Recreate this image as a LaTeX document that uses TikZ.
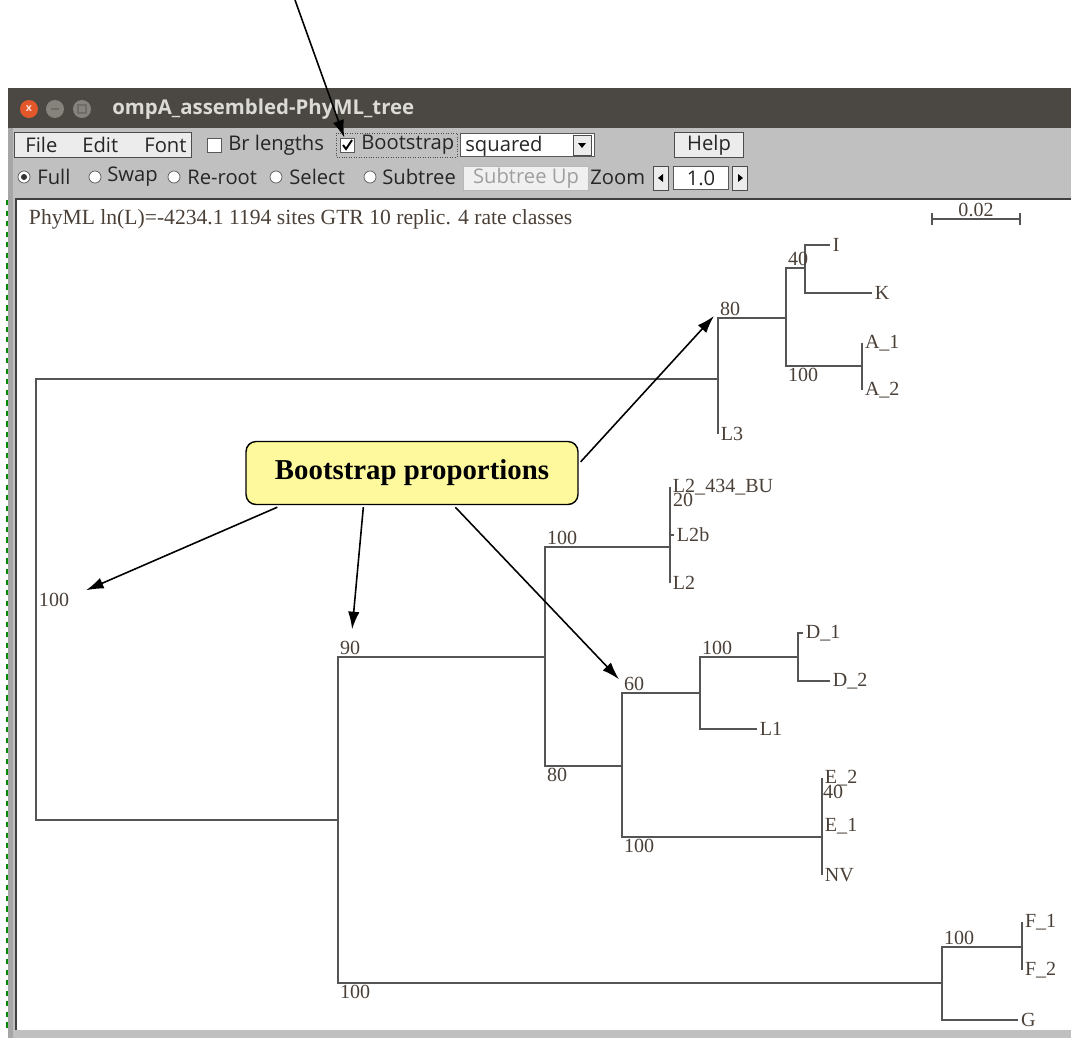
\documentclass[tikz,border=0pt]{standalone}
\usepackage{fontspec}
\setmainfont{Liberation Serif}
\newfontfamily\guifont{Open Sans}
\usetikzlibrary{arrows.meta,positioning,calc}
\definecolor{titlebar}{HTML}{4B4843}
\definecolor{titletext}{HTML}{DCDAD4}
\definecolor{winbtnc}{HTML}{86837C}
\definecolor{panel}{HTML}{C0C0C0}
\definecolor{branchc}{HTML}{555555}
\definecolor{labelc}{HTML}{4A4038}
\definecolor{calloutfill}{HTML}{FDF99C}
\definecolor{closeorange}{HTML}{E2582B}

\begin{document}
\begin{tikzpicture}[
  x=0.02cm, y=-0.02cm,
  branch/.style={draw=branchc, line width=1pt},
  leaf/.style={anchor=west, inner sep=1.5pt, text=labelc, font=\fontsize{11.4}{12}\selectfont},
  bsup/.style={anchor=south west, inner sep=1pt, text=labelc, font=\fontsize{11.4}{12}\selectfont},
  bsdown/.style={anchor=north west, inner sep=1pt, text=labelc, font=\fontsize{11.4}{12}\selectfont},
  guitext/.style={anchor=west, inner sep=0pt, font=\guifont\fontsize{11.5}{13}\selectfont, text=black!85},
  btn/.style={draw=gray!60!black, fill=gray!15, inner sep=0pt},
  chkbox/.style={draw=gray!70!black, fill=white, minimum size=0.28cm, inner sep=0pt},
  radio/.style={circle, draw=gray!70!black, fill=white, minimum size=0.24cm, inner sep=0pt},
  winbtn/.style={circle, minimum size=0.36cm, inner sep=0pt},
  callout/.style={rectangle, draw, thick, rounded corners=0.2cm, fill=calloutfill, minimum width=6.64cm, minimum height=1.26cm, font=\fontsize{16.4}{19}\selectfont\bfseries},
  arr/.style={-{Latex[length=10pt,width=6.5pt]}, line width=0.9pt}
]
  \useasboundingbox (0,0) rectangle (1071,1038);
  \fill[white] (0,0) rectangle (1071,1038);

  % window frame
  \fill[panel] (8,128) rectangle (1071,1038);
  \fill[titlebar] (8,88) rectangle (1071,128);
  \fill[white] (17,200) rectangle (1071,1030);
  \draw[gray!50!black, line width=1.2pt] (16,1030) -- (16,199) -- (1071,199);
  \fill[gray!70] (8,128) rectangle (13,1038);
  \draw[green!55!black, dashed, line width=0.6pt] (7,200) -- (7,1030);

  % title bar
  \node[winbtn, fill=closeorange] (wClose) at (29,109) {};
  \node[winbtn, fill=winbtnc] (wMin) at (55,109) {};
  \node[winbtn, fill=winbtnc] (wMax) at (82,109) {};
  \node[font=\guifont\fontsize{6}{6}\selectfont\bfseries, text=white!80!closeorange] at (wClose) {x};
  \draw[titlebar!80, line width=1pt] ($(wMin)+(-4,0)$) -- ($(wMin)+(4,0)$);
  \draw[titlebar!80, line width=0.8pt] ($(wMax)+(-4,-4)$) rectangle ($(wMax)+(4,4)$);
  \node[guitext, text=titletext, font=\guifont\fontsize{11.6}{13}\selectfont\bfseries] (title) at (112,109) {ompA\_assembled-PhyML\_tree};

  % toolbar, first row
  \node[btn, minimum width=3.54cm, minimum height=0.5cm] (menuBtn) at (103,145) {};
  \node[guitext] (tFile) at (25,145) {File};
  \node[guitext] (tEdit) at (82,145) {Edit};
  \node[guitext] (tFont) at (144,145) {Font};
  \node[chkbox] (chkBr) at (214,145) {};
  \node[guitext] (tBr) at (228,145) {Br lengths};
  \draw[gray!60!black, densely dotted] (336,133) rectangle (457,157);
  \node[chkbox] (chkBoot) at (347,145) {};
  \draw[black, line width=1.1pt] ($(chkBoot)+(-4,0)$) -- ($(chkBoot)+(-1,4)$) -- ($(chkBoot)+(5,-5)$);
  \node[guitext] (tBoot) at (361,145) {Bootstrap};
  \node[draw=gray!70!black, fill=white, minimum width=2.68cm, minimum height=0.46cm, inner sep=0pt] (combo) at (527,145) {};
  \node[guitext] (tSquared) at (465,146) {squared};
  \node[btn, minimum width=0.36cm, minimum height=0.4cm] (comboArrow) at (582,145) {};
  \fill[black] ($(comboArrow)+(-4,-2)$) -- ($(comboArrow)+(4,-2)$) -- ($(comboArrow)+(0,3)$) -- cycle;
  \node[btn, minimum width=1.38cm, minimum height=0.5cm] (helpBtn) at (709,145) {};
  \node[guitext, anchor=center] (tHelp) at (helpBtn) {Help};

  % toolbar, second row
  \node[radio] (rFull) at (24,177) {};
  \fill[black!80] (rFull) circle (3);
  \node[guitext] (tFull) at (37,177) {Full};
  \node[radio] (rSwap) at (95,177) {};
  \node[guitext] (tSwap) at (107,177) {Swap};
  \node[radio] (rReroot) at (174,177) {};
  \node[guitext] (tReroot) at (187,177) {Re-root};
  \node[radio] (rSelect) at (276,177) {};
  \node[guitext] (tSelect) at (289,177) {Select};
  \node[radio] (rSubtree) at (370,177) {};
  \node[guitext] (tSubtree) at (382,177) {Subtree};
  \node[draw=gray!55, fill=gray!12, minimum width=2.5cm, minimum height=0.48cm, inner sep=0pt] (subUp) at (526,178) {};
  \node[guitext, anchor=center, text=gray!75] (tSubUp) at (subUp) {Subtree Up};
  \node[guitext] (tZoom) at (590,177) {Zoom};
  \node[btn, minimum width=0.3cm, minimum height=0.48cm] (zLeft) at (661,178) {};
  \fill[black] ($(zLeft)+(2,-4)$) -- ($(zLeft)+(2,4)$) -- ($(zLeft)+(-3,0)$) -- cycle;
  \node[draw=gray!70!black, fill=white, minimum width=1.1cm, minimum height=0.46cm, inner sep=0pt] (zField) at (701,178) {};
  \node[guitext, anchor=center] (tZoomVal) at (zField) {1.0};
  \node[btn, minimum width=0.3cm, minimum height=0.48cm] (zRight) at (740,178) {};
  \fill[black] ($(zRight)+(-2,-4)$) -- ($(zRight)+(-2,4)$) -- ($(zRight)+(3,0)$) -- cycle;

  % header and scale bar
  \node[leaf, font=\fontsize{12.3}{13}\selectfont] (header) at (26,219) {PhyML ln(L)=-4234.1 1194 sites GTR 10 replic. 4 rate classes};
  \coordinate (scaleL) at (932,219);
  \coordinate (scaleR) at (1020,219);
  \draw[branch] (scaleL) -- (scaleR);
  \draw[branch] ($(scaleL)+(0,-6)$) -- ($(scaleL)+(0,6)$);
  \draw[branch] ($(scaleR)+(0,-6)$) -- ($(scaleR)+(0,6)$);
  \node[anchor=south, inner sep=0.5pt, text=labelc, font=\fontsize{11.4}{12}\selectfont] (scaleLbl) at ($(scaleL)!0.5!(scaleR)+(0,-1)$) {0.02};

  % internal nodes
  \coordinate (root) at (36,600);
  \coordinate (n80) at (718,379);
  \coordinate (nIKA) at (786,318);
  \coordinate (nIK) at (805,268);
  \coordinate (nA) at (862,366);
  \coordinate (n90) at (338,820);
  \coordinate (nL2up) at (545,657);
  \coordinate (nL2) at (670,547);
  \coordinate (n80b) at (622,766);
  \coordinate (nD) at (700,693);
  \coordinate (nDD) at (798,657);
  \coordinate (nE) at (822,837);
  \coordinate (nFG) at (942,983);
  \coordinate (nF) at (1022,947);

  % leaves
  \node[leaf] (lI) at (830,245) {I};
  \node[leaf] (lK) at (872,293) {K};
  \node[leaf] (lA1) at (862,343) {A\_1};
  \node[leaf] (lA2) at (862,390) {A\_2};
  \node[leaf] (lL3) at (718,434) {L3};
  \node[leaf] (lL2bu) at (670,487) {L2\_434\_BU};
  \node[leaf] (lL2b) at (674,535) {L2b};
  \node[leaf] (lL2) at (670,583) {L2};
  \node[leaf] (lD1) at (803,633) {D\_1};
  \node[leaf] (lD2) at (830,681) {D\_2};
  \node[leaf] (lL1) at (757,729) {L1};
  \node[leaf] (lE2) at (822,778) {E\_2};
  \node[leaf] (lE1) at (822,826) {E\_1};
  \node[leaf] (lNV) at (822,875) {NV};
  \node[leaf] (lF1) at (1022,922) {F\_1};
  \node[leaf] (lF2) at (1022,970) {F\_2};
  \node[leaf] (lG) at (1018,1020) {G};

  % branches
  \draw[branch] (root) |- (n80);
  \draw[branch] (root) |- (n90);
  \draw[branch] (n80) |- (nIKA);
  \draw[branch] (n80) |- (lL3.west);
  \draw[branch] (nIKA) |- (nIK);
  \draw[branch] (nIKA) |- (nA);
  \draw[branch] (nIK) |- (lI.west);
  \draw[branch] (nIK) |- (lK.west);
  \draw[branch] (nA) |- (lA1.west);
  \draw[branch] (nA) |- (lA2.west);
  \draw[branch] (n90) |- (nL2up);
  \draw[branch] (n90) |- (nFG);
  \draw[branch] (nL2up) |- (nL2);
  \draw[branch] (nL2up) |- (n80b);
  \draw[branch] (nL2) |- (lL2bu.west);
  \draw[branch] (nL2) |- (lL2b.west);
  \draw[branch] (nL2) |- (lL2.west);
  \draw[branch] (n80b) |- (nD);
  \draw[branch] (n80b) |- (nE);
  \draw[branch] (nD) |- (nDD);
  \draw[branch] (nD) |- (lL1.west);
  \draw[branch] (nDD) |- (lD1.west);
  \draw[branch] (nDD) |- (lD2.west);
  \draw[branch] (nE) |- (lE2.west);
  \draw[branch] (nE) |- (lE1.west);
  \draw[branch] (nE) |- (lNV.west);
  \draw[branch] (nFG) |- (nF);
  \draw[branch] (nFG) |- (lG.west);
  \draw[branch] (nF) |- (lF1.west);
  \draw[branch] (nF) |- (lF2.west);

  % bootstrap values
  \node[leaf] (bsroot) at (root) {100};
  \node[bsup] (bs80) at (n80 |- nIKA) {80};
  \node[bsup] (bs40) at (nIKA |- nIK) {40};
  \node[bsdown] (bs100A) at (nIKA |- nA) {100};
  \node[bsup] (bs100L2) at (nL2up |- nL2) {100};
  \node[bsup] (bs20) at (671,509) {20};
  \node[bsup] (bs90) at (n90 |- nL2up) {90};
  \node[bsdown] (bs80b) at (nL2up |- n80b) {80};
  \node[bsup] (bs60) at (n80b |- nD) {60};
  \node[bsdown] (bs100E) at (n80b |- nE) {100};
  \node[bsup] (bs100D) at (nD |- nDD) {100};
  \node[bsup] (bs40E) at (821,801) {40};
  \node[bsdown] (bs100FG) at (n90 |- nFG) {100};
  \node[bsup] (bs100F) at (nFG |- nF) {100};

  % callout
  \node[callout] (callout) at (412,473) {Bootstrap proportions\hspace{8pt}};
  \coordinate (topStart) at (295,0);
  \draw[arr] (topStart) -- (chkBoot);
  \draw[arr] ($(callout.north east)+(2,21)$) -- ($(bs80.south west)+(-4,-2)$);
  \draw[arr] ($(callout.south west)+(32,2)$) -- ($(bsroot.north east)+(14,0)$);
  \draw[arr] ($(callout.south west)+(118,2)$) -- ($(bs90.north)+(2,-10)$);
  \draw[arr] ($(callout.south west)+(210,2)$) -- ($(bs60.north west)+(-3,4)$);
\end{tikzpicture}
\end{document}
